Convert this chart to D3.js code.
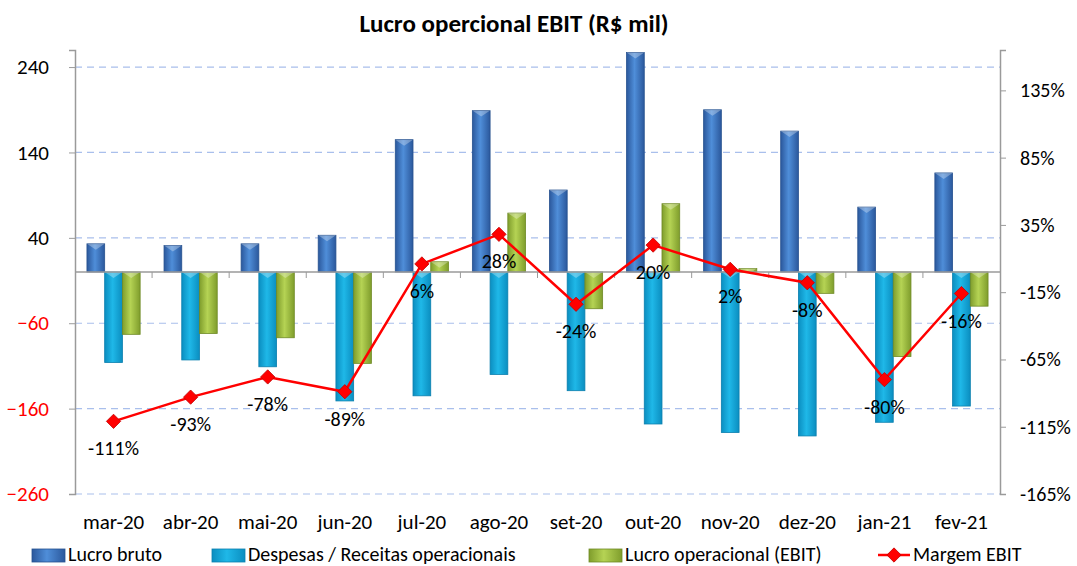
<!DOCTYPE html>
<meta charset="utf-8">
<body style="margin:0;background:white">
  <div id="content"></div>
</body>
<script src="https://cdn.jsdelivr.net/npm/d3@7"></script>
<script>
// chart data (R$ mil)
var months = ["mar-20", "abr-20", "mai-20", "jun-20", "jul-20", "ago-20", "set-20", "out-20", "nov-20", "dez-20", "jan-21", "fev-21"];
var lucroBruto = [33, 31, 33, 43, 155, 189, 96, 257, 190, 165, 76, 116];
var despesas = [-106, -103, -111, -151, -145, -120, -139, -178, -188, -192, -176, -157];
var ebit = [-73, -72, -77, -107, 12, 69, -43, 80, 4, -25, -99, -40];
var margem = [-111, -93, -78, -89, 6, 28, -24, 20, 2, -8, -80, -16];
var leftTicks = [-260, -160, -60, 40, 140, 240];
var rightTicks = [-165, -115, -65, -15, 35, 85, 135];

var chart = { width: 1077, height: 566, left: 75, right: 1000, top: 50, bottom: 494 };
var font = "Carlito, Calibri, Lato, sans-serif";

var series = [
    { key: "lb", label: "Lucro bruto", values: lucroBruto, edge: "#2b589c", mid: "#4f8ed9", stroke: "#27528f" },
    { key: "dp", label: "Despesas / Receitas operacionais", values: despesas, edge: "#0b8ec0", mid: "#1fb8e8", stroke: "#0a7fae" },
    { key: "eb", label: "Lucro operacional (EBIT)", values: ebit, edge: "#7f9d2c", mid: "#b5d354", stroke: "#6f8a25" }
];

var svg = d3.select('#content').append('svg')
    .attr('width', chart.width).attr('height', chart.height)
    .style('font-family', font);

// gradients for the bevelled bars
var defs = svg.append('defs');
series.forEach(function (s) {
    var g = defs.append('linearGradient').attr('id', 'g-' + s.key)
        .attr('x1', 0).attr('x2', 1).attr('y1', 0).attr('y2', 0);
    g.append('stop').attr('offset', '0%').attr('stop-color', s.edge);
    g.append('stop').attr('offset', '45%').attr('stop-color', s.mid);
    g.append('stop').attr('offset', '100%').attr('stop-color', s.edge);
});

var x = d3.scaleBand().domain(months).range([chart.left, chart.right]);
var groupW = x.bandwidth() * 0.69;
var x1 = d3.scaleBand().domain(series.map(function (s) { return s.key; })).range([0, groupW]);
var yL = d3.scaleLinear().domain([-260, 260]).range([chart.bottom, chart.top]);
var yR = d3.scaleLinear().domain([-165, 165]).range([chart.bottom, chart.top]);

// title
svg.append('text').attr('x', 514).attr('y', 32).attr('text-anchor', 'middle')
    .attr('font-size', 25).attr('font-weight', 'bold').text('Lucro opercional EBIT (R$ mil)');

// dashed grid
svg.append('g').selectAll('line').data(leftTicks).enter().append('line')
    .attr('x1', chart.left).attr('x2', chart.right)
    .attr('y1', function (d) { return yL(d); }).attr('y2', function (d) { return yL(d); })
    .attr('stroke', '#a9bfec').attr('stroke-width', 1.2).attr('stroke-dasharray', '7,5');

// left axis
var axL = svg.append('g').attr('transform', 'translate(' + chart.left + ',0)')
    .call(d3.axisLeft(yL).tickValues(leftTicks).tickSize(6).tickPadding(20));
axL.select('.domain').attr('stroke', '#9a9a9a').attr('stroke-width', 1.5);
axL.selectAll('.tick line').attr('stroke', '#9a9a9a');
axL.selectAll('.tick text').attr('font-size', 21).attr('font-family', font)
    .attr('fill', function (d) { return d < 0 ? '#ff0000' : '#000'; });

// right axis
var axR = svg.append('g').attr('transform', 'translate(' + chart.right + ',0)')
    .call(d3.axisRight(yR).tickValues(rightTicks).tickSize(6).tickPadding(14).tickFormat(function (d) { return d + '%'; }));
axR.select('.domain').attr('stroke', '#9a9a9a').attr('stroke-width', 1.5);
axR.selectAll('.tick line').attr('stroke', '#9a9a9a');
axR.selectAll('.tick text').attr('font-size', 20).attr('font-family', font).attr('fill', '#000');

// bars
var groups = svg.append('g').selectAll('g').data(months).enter().append('g')
    .attr('transform', function (d) { return 'translate(' + (x(d) + (x.bandwidth() - groupW) / 2) + ',0)'; });
groups.selectAll('rect').data(function (m, i) {
    return series.map(function (s) { return { s: s, v: s.values[i] }; });
}).enter().append('rect')
    .attr('x', function (d) { return x1(d.s.key); })
    .attr('width', x1.bandwidth())
    .attr('y', function (d) { return yL(Math.max(0, d.v)); })
    .attr('height', function (d) { return Math.abs(yL(d.v) - yL(0)); })
    .attr('fill', function (d) { return 'url(#g-' + d.s.key + ')'; })
    .attr('stroke', function (d) { return d.s.stroke; }).attr('stroke-width', 0.8);
// top bevel highlight
groups.selectAll('path').data(function (m, i) {
    return series.map(function (s) { return { s: s, v: s.values[i] }; });
}).enter().append('path')
    .attr('d', function (d) {
        var x0 = x1(d.s.key), w = x1.bandwidth(), y0 = yL(Math.max(0, d.v)), h = 6;
        return 'M' + x0 + ',' + y0 + 'L' + (x0 + w) + ',' + y0 + 'L' + (x0 + w / 2) + ',' + (y0 + h) + 'Z';
    })
    .attr('fill', '#ffffff').attr('opacity', 0.3);

// zero line with category ticks
svg.append('line').attr('x1', chart.left).attr('x2', chart.right)
    .attr('y1', yL(0)).attr('y2', yL(0)).attr('stroke', '#9a9a9a').attr('stroke-width', 1.5);
svg.append('g').selectAll('line').data(months.slice(1)).enter().append('line')
    .attr('x1', function (d) { return x(d); }).attr('x2', function (d) { return x(d); })
    .attr('y1', yL(0)).attr('y2', yL(0) + 6).attr('stroke', '#9a9a9a');

// month labels
svg.append('g').selectAll('text').data(months).enter().append('text')
    .attr('x', function (d) { return x(d) + x.bandwidth() / 2; }).attr('y', 529)
    .attr('text-anchor', 'middle').attr('font-size', 21).text(function (d) { return d; });

// margin line
var line = d3.line()
    .x(function (d, i) { return x(months[i]) + x.bandwidth() / 2; })
    .y(function (d) { return yR(d); });
svg.append('path').datum(margem).attr('d', line)
    .attr('fill', 'none').attr('stroke', '#ff0000').attr('stroke-width', 2.5);
var diamond = d3.symbol().type(d3.symbolDiamond2).size(130);
svg.append('g').selectAll('path').data(margem).enter().append('path')
    .attr('transform', function (d, i) { return 'translate(' + (x(months[i]) + x.bandwidth() / 2) + ',' + yR(d) + ')'; })
    .attr('d', diamond).attr('fill', '#ff0000').attr('stroke', '#c00000').attr('stroke-width', 0.8);
svg.append('g').selectAll('text').data(margem).enter().append('text')
    .attr('x', function (d, i) { return x(months[i]) + x.bandwidth() / 2; })
    .attr('y', function (d) { return yR(d) + 34; })
    .attr('text-anchor', 'middle').attr('font-size', 20).text(function (d) { return d + '%'; });

// legend
var legendX = [32, 212, 589, 878];
var lg = svg.append('g');
series.forEach(function (s, i) {
    lg.append('rect').attr('x', legendX[i]).attr('y', 549).attr('width', 33).attr('height', 13)
        .attr('fill', 'url(#g-' + s.key + ')').attr('stroke', s.stroke).attr('stroke-width', 0.8);
    lg.append('text').attr('x', legendX[i] + 36).attr('y', 561).attr('font-size', 20).text(s.label);
});
lg.append('line').attr('x1', legendX[3]).attr('x2', legendX[3] + 32).attr('y1', 555).attr('y2', 555)
    .attr('stroke', '#ff0000').attr('stroke-width', 2.5);
lg.append('path').attr('transform', 'translate(' + (legendX[3] + 16) + ',555)').attr('d', diamond)
    .attr('fill', '#ff0000').attr('stroke', '#c00000').attr('stroke-width', 0.8);
lg.append('text').attr('x', legendX[3] + 35).attr('y', 561).attr('font-size', 20).text('Margem EBIT');
</script>
